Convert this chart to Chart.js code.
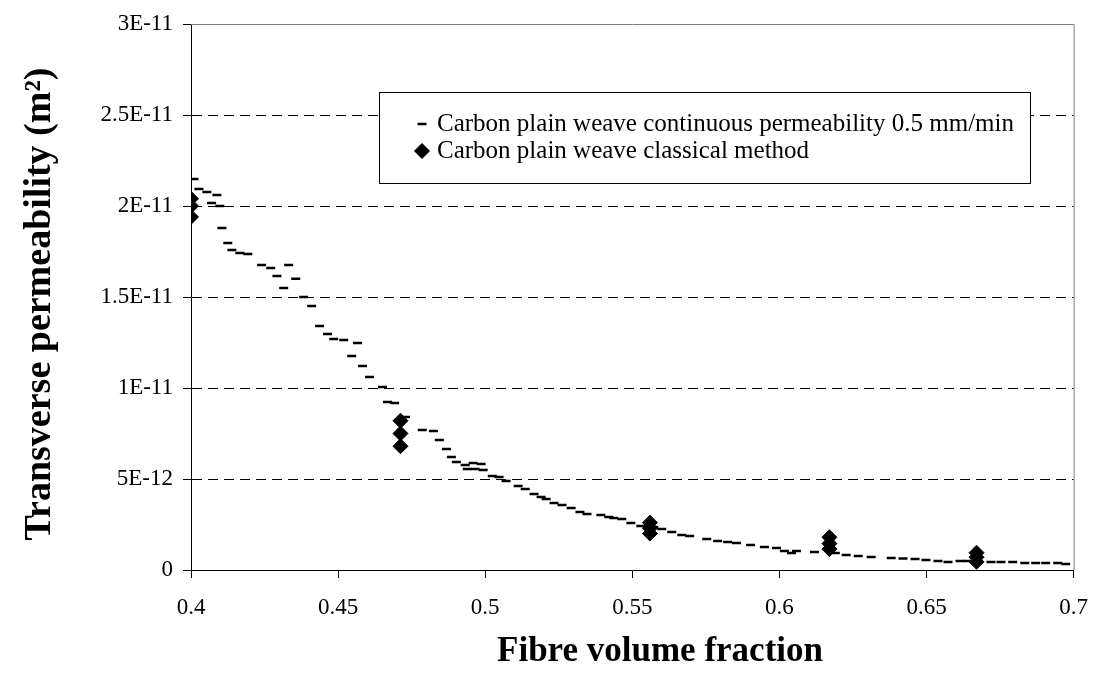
<!DOCTYPE html>
<html>
<head>
<meta charset="utf-8">
<script src="https://cdn.jsdelivr.net/npm/chart.js@4/dist/chart.umd.min.js"></script>
<style>
  html, body { margin: 0; padding: 0; background: #fff; }
  #wrap { width: 1104px; height: 686px; }
</style>
</head>
<body>
<div id="wrap"><canvas id="chart" width="1104" height="686"></canvas></div>
<script>
// continuous permeability measurement (dash markers)
const contX = [0.4010, 0.4027, 0.4054, 0.4070, 0.4088, 0.4098, 0.4105, 0.4125, 0.4139, 0.4166,
  0.4193, 0.4240, 0.4271, 0.4292, 0.4315, 0.4332, 0.4356, 0.4383, 0.4410, 0.4437,
  0.4464, 0.4485, 0.4519, 0.4546, 0.4566, 0.4583, 0.4607, 0.4651, 0.4668, 0.4692,
  0.4729, 0.4786, 0.4824, 0.4844, 0.4868, 0.4885, 0.4902, 0.4932, 0.4939, 0.4959,
  0.4966, 0.4986, 0.4993, 0.5024, 0.5047, 0.5071, 0.5112, 0.5136, 0.5166, 0.5190,
  0.5207, 0.5234, 0.5261, 0.5292, 0.5322, 0.5346, 0.5393, 0.5420, 0.5437, 0.5464,
  0.5495, 0.5529, 0.5573, 0.5600, 0.5634, 0.5668, 0.5695, 0.5753, 0.5790, 0.5824,
  0.5854, 0.5902, 0.5949, 0.5990, 0.6017, 0.6041, 0.6058, 0.6119, 0.6190, 0.6227,
  0.6268, 0.6312, 0.6380, 0.6420, 0.6461, 0.6498, 0.6539, 0.6573, 0.6614, 0.6641,
  0.6719, 0.6753, 0.6793, 0.6834, 0.6871, 0.6905, 0.6946, 0.6973];
const contY = [2.148e-11, 2.093e-11, 2.077e-11, 2.016e-11, 2.060e-11, 2.000e-11, 1.879e-11, 1.797e-11, 1.758e-11, 1.742e-11,
  1.736e-11, 1.676e-11, 1.659e-11, 1.615e-11, 1.549e-11, 1.676e-11, 1.600e-11, 1.500e-11, 1.450e-11, 1.341e-11,
  1.297e-11, 1.269e-11, 1.264e-11, 1.176e-11, 1.247e-11, 1.121e-11, 1.060e-11, 1.005e-11, 9.23e-12, 9.18e-12,
  8.41e-12, 7.69e-12, 7.64e-12, 7.14e-12, 6.65e-12, 6.21e-12, 5.93e-12, 5.77e-12, 5.55e-12, 5.88e-12,
  5.55e-12, 5.82e-12, 5.49e-12, 5.16e-12, 5.11e-12, 4.89e-12, 4.62e-12, 4.45e-12, 4.18e-12, 4.01e-12,
  3.90e-12, 3.68e-12, 3.57e-12, 3.41e-12, 3.19e-12, 3.08e-12, 3.02e-12, 2.91e-12, 2.86e-12, 2.80e-12,
  2.58e-12, 2.42e-12, 2.36e-12, 2.25e-12, 2.09e-12, 1.92e-12, 1.87e-12, 1.70e-12, 1.59e-12, 1.54e-12,
  1.48e-12, 1.37e-12, 1.26e-12, 1.21e-12, 1.04e-12, 0.93e-12, 1.04e-12, 0.99e-12, 0.93e-12, 0.82e-12,
  0.77e-12, 0.71e-12, 0.66e-12, 0.63e-12, 0.60e-12, 0.55e-12, 0.49e-12, 0.44e-12, 0.49e-12, 0.49e-12,
  0.44e-12, 0.44e-12, 0.44e-12, 0.38e-12, 0.38e-12, 0.38e-12, 0.38e-12, 0.33e-12];

// classical method (diamonds)
const classX = [0.4, 0.4, 0.4, 0.4712, 0.4712, 0.4712, 0.556, 0.556, 0.556, 0.617, 0.617, 0.617, 0.667, 0.667, 0.667];
const classY = [2.04e-11, 2.00e-11, 1.94e-11, 8.2e-12, 7.5e-12, 6.8e-12, 2.6e-12, 2.3e-12, 2.0e-12,
  1.8e-12, 1.45e-12, 1.15e-12, 0.95e-12, 0.7e-12, 0.45e-12];

const xTickLabels = ["0.4", "0.45", "0.5", "0.55", "0.6", "0.65", "0.7"];
const yTickLabels = ["0", "5E-12", "1E-11", "1.5E-11", "2E-11", "2.5E-11", "3E-11"];
const seriesNames = ["Carbon plain weave continuous permeability 0.5 mm/min", "Carbon plain weave classical method"];
const xTitle = "Fibre volume fraction";
const yTitle = "Transverse permeability (m²)";

const SERIF = "'Liberation Serif', 'Times New Roman', serif";

// legend box, grey top/right frame and the two axis titles
const framePlugin = {
  id: "frame",
  afterDraw(chart) {
    const { ctx, chartArea: a } = chart;
    ctx.save();
    ctx.strokeStyle = "#808080";
    ctx.lineWidth = 1;
    ctx.beginPath();
    ctx.moveTo(a.left, a.top + 0.5);
    ctx.lineTo(a.right + 0.5, a.top + 0.5);
    ctx.lineTo(a.right + 0.5, a.bottom);
    ctx.stroke();

    // legend
    const bx = 379.5, by = 92.5, bw = 651, bh = 91;
    ctx.fillStyle = "#fff";
    ctx.fillRect(bx, by, bw, bh);
    ctx.strokeStyle = "#000";
    ctx.strokeRect(bx, by, bw, bh);
    ctx.font = "25px " + SERIF;
    ctx.textBaseline = "middle";
    const rows = [124, 151];
    chart.data.datasets.forEach((ds, i) => {
      ctx.fillStyle = "#000";
      ctx.strokeStyle = "#000";
      ctx.lineWidth = ds.pointBorderWidth;
      Chart.helpers.drawPoint(ctx, {
        pointStyle: ds.pointStyle, radius: ds.pointRadius, borderWidth: ds.pointBorderWidth, rotation: 0
      }, 422, rows[i]);
      ctx.fillText(seriesNames[i], 437, rows[i]);
    });

    // axis titles
    ctx.font = "bold 35px " + SERIF;
    ctx.textAlign = "center";
    ctx.fillText(xTitle, 660, 652);
    ctx.translate(40, 304);
    ctx.rotate(-Math.PI / 2);
    ctx.font = "bold 38px " + SERIF;
    ctx.fillText(yTitle, 0, 0);
    ctx.restore();
  }
};

new Chart(document.getElementById("chart"), {
  type: "scatter",
  data: {
    datasets: [{
      label: seriesNames[0],
      data: contX.map((x, i) => ({ x: x, y: contY[i] })),
      pointStyle: "line",
      pointRadius: 4.5,
      pointBorderWidth: 2.5,
      borderColor: "#000",
      backgroundColor: "#000",
      showLine: false
    }, {
      label: seriesNames[1],
      data: classX.map((x, i) => ({ x: x, y: classY[i] })),
      pointStyle: "rectRot",
      pointRadius: 7.5,
      pointBorderWidth: 1,
      borderColor: "#000",
      backgroundColor: "#000",
      showLine: false
    }]
  },
  options: {
    responsive: false,
    animation: false,
    events: [],
    layout: { padding: { top: 24, right: 28, left: 0, bottom: 0 } },
    plugins: { legend: { display: false }, tooltip: { enabled: false } },
    scales: {
      x: {
        type: "linear",
        min: 0.4, max: 0.7,
        afterFit: s => { s.height = 116; },
        afterBuildTicks: s => { s.ticks = xTickLabels.map(v => ({ value: parseFloat(v) })); },
        ticks: {
          callback: (v, i) => xTickLabels[i],
          font: { family: SERIF, size: 23 },
          color: "#000",
          padding: 16,
          maxRotation: 0
        },
        grid: { drawOnChartArea: false, tickLength: 8, tickColor: "#000" },
        border: { color: "#000", width: 1 }
      },
      y: {
        type: "linear",
        min: 0, max: 3e-11,
        afterFit: s => { s.width = 191; },
        afterBuildTicks: s => { s.ticks = yTickLabels.map((t, i) => ({ value: i * 5e-12 })); },
        ticks: {
          callback: (v, i) => yTickLabels[i],
          font: { family: SERIF, size: 23 },
          color: "#000",
          padding: 10
        },
        grid: {
          tickLength: 8,
          tickColor: "#000",
          tickBorderDash: [],
          color: ctx => (ctx.index === 0 || ctx.index === yTickLabels.length - 1) ? "rgba(0,0,0,0)" : "#000",
          lineWidth: 1
        },
        border: { color: "#000", width: 1, dash: [10, 6] }
      }
    }
  },
  plugins: [framePlugin]
});
</script>
</body>
</html>
